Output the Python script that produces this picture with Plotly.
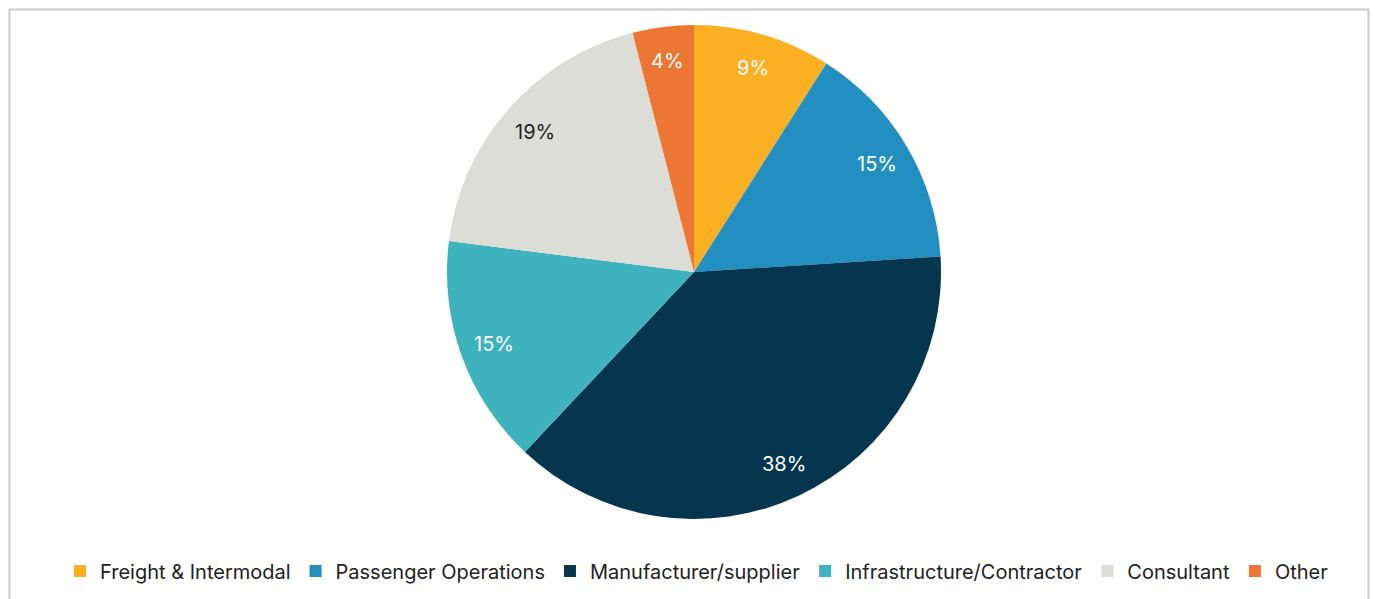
import math
import plotly.graph_objects as go

# Respondent breakdown by organisation type
categories = ["Freight & Intermodal", "Passenger Operations", "Manufacturer/supplier",
              "Infrastructure/Contractor", "Consultant", "Other"]
shares = [9, 15, 38, 15, 19, 4]
slice_colors = ["#FBB024", "#228FC0", "#05354F", "#3FB3BD", "#DDDDD8", "#EC7633"]
label_colors = ["#FFFFFF", "#FFFFFF", "#FFFFFF", "#FFFFFF", "#222222", "#FFFFFF"]

W, H = 1375, 599
cx, cy, r = 694, 272, 247
label_radius = 0.86 * r

fig = go.Figure(go.Pie(
    labels=categories,
    values=shares,
    sort=False,
    direction="clockwise",
    rotation=0,
    marker=dict(colors=slice_colors, line=dict(width=0)),
    textposition="none",
    hoverinfo="label+percent",
    domain=dict(x=[(cx - r) / W, (cx + r) / W], y=[1 - (cy + r) / H, 1 - (cy - r) / H]),
))

# percentage labels placed along each slice's bisector, toward the rim
total = sum(shares)
cum = 0
for val, col in zip(shares, label_colors):
    mid = (cum + val / 2) / total * 2 * math.pi
    cum += val
    px = cx + label_radius * math.sin(mid)
    py = cy - label_radius * math.cos(mid)
    fig.add_annotation(x=px / W, y=1 - py / H, xref="paper", yref="paper",
                       text=f"{val}%", showarrow=False,
                       font=dict(size=20, color=col, family="Inter"),
                       xanchor="center", yanchor="middle")

# light frame around the chart area
fig.add_shape(type="rect", xref="paper", yref="paper",
              x0=9.5 / W, x1=1368.5 / W, y0=-0.05, y1=1 - 9.5 / H,
              line=dict(color="#CBCBD2", width=2), fillcolor="rgba(0,0,0,0)", layer="below")

fig.update_layout(
    width=W, height=H,
    margin=dict(l=0, r=0, t=0, b=0),
    paper_bgcolor="white",
    plot_bgcolor="white",
    font=dict(family="Inter", size=20, color="#222222"),
    showlegend=True,
    legend=dict(orientation="h", x=697 / W, xanchor="center", y=1 - 571 / H, yanchor="middle",
                font=dict(size=20, color="#222222"), itemclick=False, tracegroupgap=0),
)

fig.write_html("out.html")
